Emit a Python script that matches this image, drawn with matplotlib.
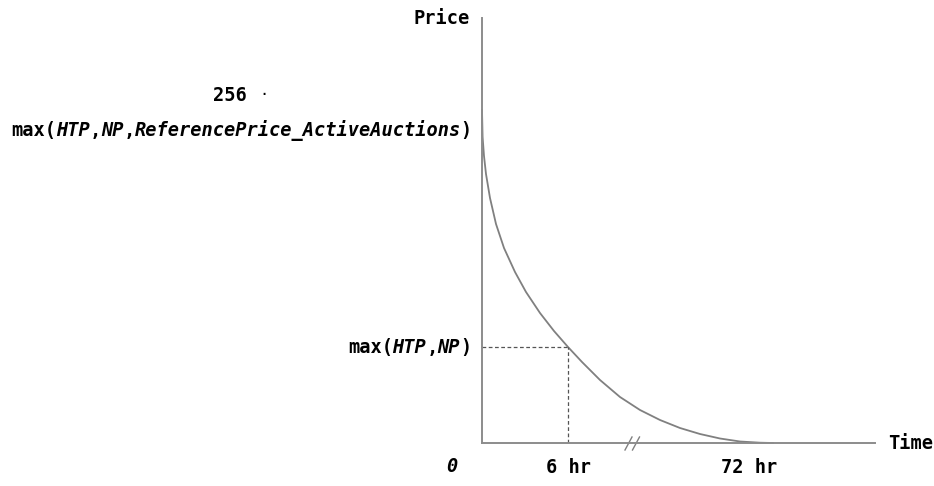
import matplotlib
matplotlib.use("Agg")
import matplotlib.pyplot as plt
from matplotlib.transforms import offset_copy

plt.rcParams['font.family'] = 'DejaVu Sans Mono'

# curve (time position, price position)
curve_t = [0, 0.6, 2, 4, 8, 14, 22, 33, 44, 58, 72, 86, 100, 118, 138,
           158, 178, 198, 218, 238, 258, 278, 291]
curve_p = [333, 306, 287, 269, 245, 219, 195, 171, 151, 130, 112, 96, 81, 63, 46,
           33, 23, 15, 9, 4.5, 1.5, 0.3, 0]

# x tick positions and labels
x_ticks = [86, 267]
x_labels = ['6 hr', '72 hr']

# y levels
p_floor = 96          # max(HTP,NP)
p_start = 313         # max(HTP,NP,ReferencePrice_ActiveAuctions)
p_256 = 348

lab_floor = [('max(', False), ('HTP', True), (',', False), ('NP', True), (')', False)]
lab_start = [('max(', False), ('HTP', True), (',', False), ('NP', True), (',', False),
             ('ReferencePrice_ActiveAuctions', True), (')', False)]

fs = 13.4
wt = 'semibold'
adv = 0.602 * fs   # monospace advance, points


def mixed_label(ax, x, y, parts):
    # right aligned label made of upright / italic pieces
    n = sum(len(s) for s, _ in parts)
    pos = -n * adv
    for s, it in parts:
        tr = offset_copy(ax.transData, fig=ax.figure, x=pos, y=0, units='points')
        ax.text(x, y, s, transform=tr, ha='left', va='center', fontsize=fs,
                style='italic' if it else 'normal', weight=wt, clip_on=False)
        pos += len(s) * adv


fig = plt.figure(figsize=(9.34, 4.86), dpi=100)
ax = fig.add_axes([482/934, 43/486, 393/934, 425/486])
ax.set_xlim(0, 393)
ax.set_ylim(0, 425)
for s in ['top', 'right']:
    ax.spines[s].set_visible(False)
for s in ['left', 'bottom']:
    ax.spines[s].set_color('#8c8c8c')
    ax.spines[s].set_linewidth(1.4)
ax.set_xticks([])
ax.set_yticks([])

ax.plot(curve_t, curve_p, color='#808080', lw=1.3, solid_joinstyle='round',
        clip_on=False)

# dashed guides at 6 hr
ax.plot([0, x_ticks[0]], [p_floor, p_floor], ls=(0, (3, 2)), color='#555555', lw=0.9)
ax.plot([x_ticks[0], x_ticks[0]], [0, p_floor], ls=(0, (3, 2)), color='#555555', lw=0.9)

# axis break marks
for dx in [0, 7.5]:
    ax.plot([143 + dx, 150 + dx], [-7, 6], color='#808080', lw=1.0, clip_on=False)

for t, lab in zip(x_ticks, x_labels):
    ax.text(t, -24, lab, ha='center', va='center', fontsize=fs, weight=wt, clip_on=False)
ax.text(-30, -23, '0', ha='center', va='center', fontsize=fs, style='italic', weight=wt)

mixed_label(ax, -11, p_floor, lab_floor)
mixed_label(ax, -11, p_start, lab_start)
ax.text(-252, p_256, '256', ha='center', va='center', fontsize=fs, weight=wt)
ax.text(-218, p_256 + 1, '·', ha='center', va='center', fontsize=11)

ax.text(-12, 425, 'Price', ha='right', va='center', fontsize=fs, weight=wt)
ax.text(406, 0, 'Time', ha='left', va='center', fontsize=fs, weight=wt)

fig.savefig('out.png', dpi=100)
